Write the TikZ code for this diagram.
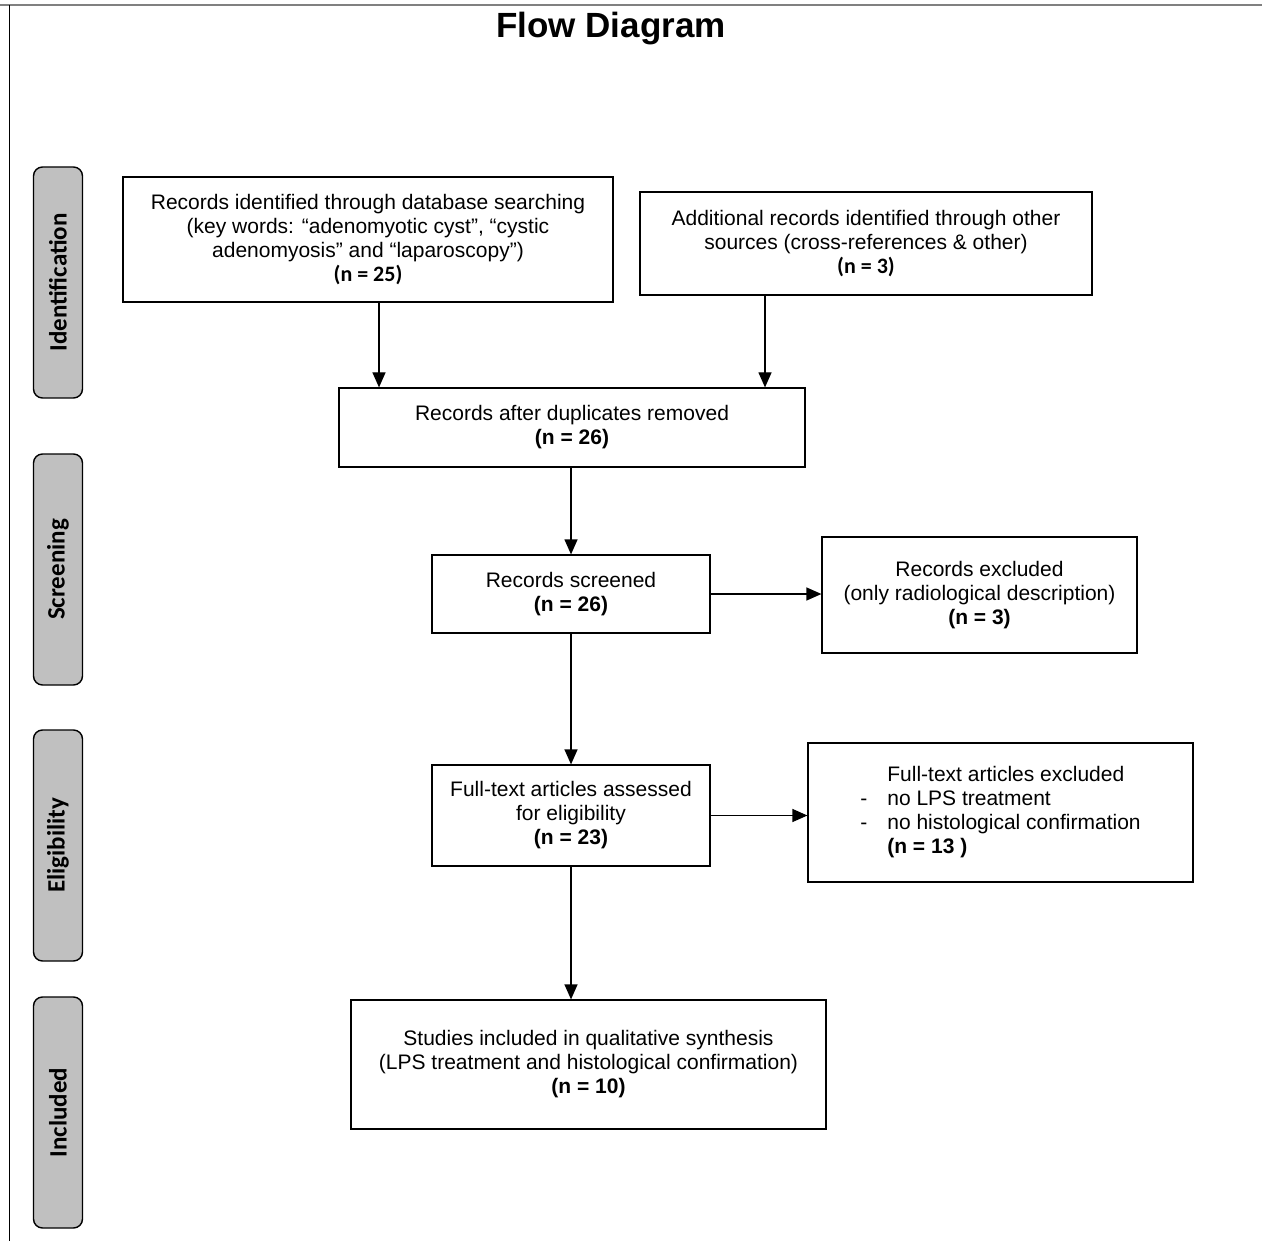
\documentclass[tikz,border=0pt]{standalone}
\usepackage{fontspec}
\setmainfont{Liberation Sans}
\newfontfamily\calib{Carlito}
\usetikzlibrary{arrows.meta}
\definecolor{phaseGray}{RGB}{192,192,192}

\begin{document}
\begin{tikzpicture}[x=1pt, y=-1pt,
    boxStyle/.style={draw, line width=1.2pt, inner sep=0pt, align=center, font=\fontsize{21}{24}\selectfont},
    phaseStyle/.style={draw, line width=1.4pt, fill=phaseGray, rounded corners=9pt, rotate=90,
        minimum width=231pt, minimum height=49pt, inner sep=0pt, font=\calib\bfseries\fontsize{25}{27}\selectfont},
    arrowStyle/.style={-{Triangle[length=15pt, width=13pt]}, line width=1.2pt}]
    \useasboundingbox (0,0) rectangle (1262,1241);

    % frame and title
    \draw[gray, line width=2.5pt] (0,5) -- (1262,5);
    \draw[line width=1pt] (9,5) -- (9,1241);
    \node[font=\bfseries\fontsize{35}{38}\selectfont](title) at (611, 29) {Flow Diagram};

    % phases
    \node[phaseStyle](phId)   at (58, 282.5)  {Identification};
    \node[phaseStyle](phScr)  at (58, 569.5)  {Screening};
    \node[phaseStyle](phElig) at (58, 845.5)  {Eligibility};
    \node[phaseStyle](phIncl) at (58, 1112.5) {Included};

    % boxes
    \node[boxStyle, minimum width=490pt, minimum height=125pt](ident) at (368, 239.5)
        {Records identified through database searching\\(key words: “adenomyotic cyst”, “cystic\\adenomyosis” and “laparoscopy”)\\{\calib\bfseries\fontsize{22}{24}\selectfont (n = 25)}};
    \node[boxStyle, minimum width=452pt, minimum height=103pt](other) at (866, 243.5)
        {Additional records identified through other\\sources (cross-references \& other)\\{\calib\bfseries\fontsize{22}{24}\selectfont (n = 3)}};
    \node[boxStyle, minimum width=466pt, minimum height=79pt](dedup) at (572, 427.5)
        {Records after duplicates removed\\\textbf{(n = 26)}};
    \node[boxStyle, minimum width=278pt, minimum height=78pt](screen) at (571, 594)
        {Records screened\\\textbf{(n = 26)}};
    \node[boxStyle, minimum width=315pt, minimum height=116pt](excl) at (979.5, 595)
        {Records excluded\\(only radiological description)\\\textbf{(n = 3)}};
    \node[boxStyle, minimum width=278pt, minimum height=101pt](full) at (571, 815.5)
        {Full-text articles assessed\\for eligibility\\\textbf{(n = 23)}};
    \node[boxStyle, minimum width=385pt, minimum height=139pt](fullexcl) at (1000.5, 812.5)
        {\begin{tabular}{@{}l@{\hspace{20pt}}l@{}}
            & Full-text articles excluded\\
            - & no LPS treatment\\
            - & no histological confirmation\\
            & \textbf{(n = 13 )}
        \end{tabular}};
    \node[boxStyle, minimum width=475pt, minimum height=129pt](incl) at (588.5, 1064.5)
        {Studies included in qualitative synthesis\\(LPS treatment and histological confirmation)\\\textbf{(n = 10)}};

    \coordinate (identOut) at ([xshift=11pt]ident.south);
    \coordinate (otherOut) at ([xshift=-101pt]other.south);

    \draw[arrowStyle] (identOut) -- (identOut |- dedup.north);
    \draw[arrowStyle] (otherOut) -- (otherOut |- dedup.north);
    \draw[arrowStyle] (screen.north |- dedup.south) -- (screen.north);
    \draw[arrowStyle] (screen.east) -- (screen.east -| excl.west);
    \draw[arrowStyle] (screen.south) -- (full.north);
    \draw[arrowStyle] (full.east) -- (full.east -| fullexcl.west);
    \draw[arrowStyle] (full.south) -- (full.south |- incl.north);
\end{tikzpicture}
\end{document}
